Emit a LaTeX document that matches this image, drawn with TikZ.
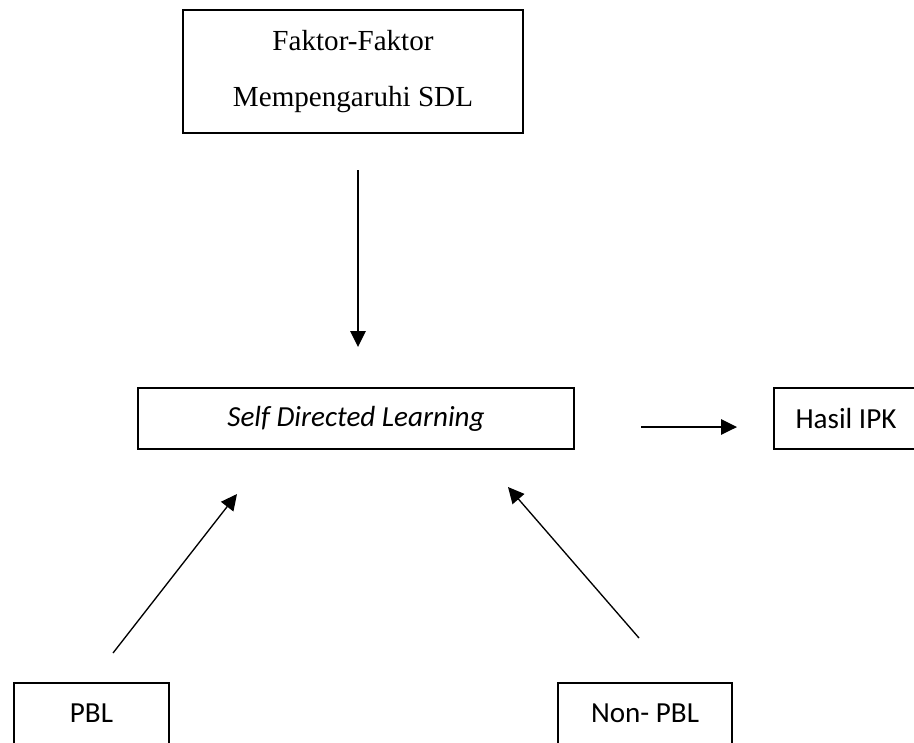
\documentclass[tikz,border=0pt]{standalone}
\usepackage{fontspec}
\setmainfont{Liberation Serif}
\newfontfamily\calibri{Carlito}
\usetikzlibrary{arrows.meta}
\newcommand{\pxl}{0.4124pt}
\tikzset{
  >={Triangle[length=6.6pt,width=6.4pt]},
  box/.style={draw,line width=0.6pt,inner sep=0pt,minimum height=61*\pxl,
              font=\calibri\fontsize{12}{14}\selectfont},
  flow/.style={->,line width=0.55pt},
}
\begin{document}
\begin{tikzpicture}[x=\pxl,y=-\pxl]
  \useasboundingbox (0,0) rectangle (914,742);
  % ---- boxes ----
  \node[box,minimum width=340*\pxl,minimum height=123*\pxl,align=center,
        font=\fontsize{12}{23.1}\selectfont] (faktor) at (353,71.5)
        {Faktor-Faktor\\Mempengaruhi SDL};
  \node[box,minimum width=436*\pxl] (sdl)    at (356,418.5) {\itshape Self Directed Learning};
  \node[box,minimum width=144*\pxl] (hasil)  at (846,418.5) {Hasil IPK};
  \node[box,minimum width=155*\pxl] (pbl)    at (91.5,713.5) {PBL};
  \node[box,minimum width=174*\pxl] (nonpbl) at (645,713.5) {Non- PBL};

  % ---- arrow ends (free, off the boxes) ----
  \coordinate (faktorOut) at (358,170);
  \coordinate (sdlIn)     at (358,347);
  \coordinate (sdlOut)    at (641,427);
  \coordinate (hasilIn)   at (737,427);
  \coordinate (pblOut)    at (113,653);
  \coordinate (sdlInL)    at (237,494);
  \coordinate (nonpblOut) at (639,638);
  \coordinate (sdlInR)    at (508,487);

  % ---- arrows ----
  \draw[flow] (faktorOut) -- (sdlIn);
  \draw[flow] (sdlOut) -- (hasilIn);
  \draw[flow] (pblOut) -- (sdlInL);
  \draw[flow] (nonpblOut) -- (sdlInR);
\end{tikzpicture}
\end{document}
